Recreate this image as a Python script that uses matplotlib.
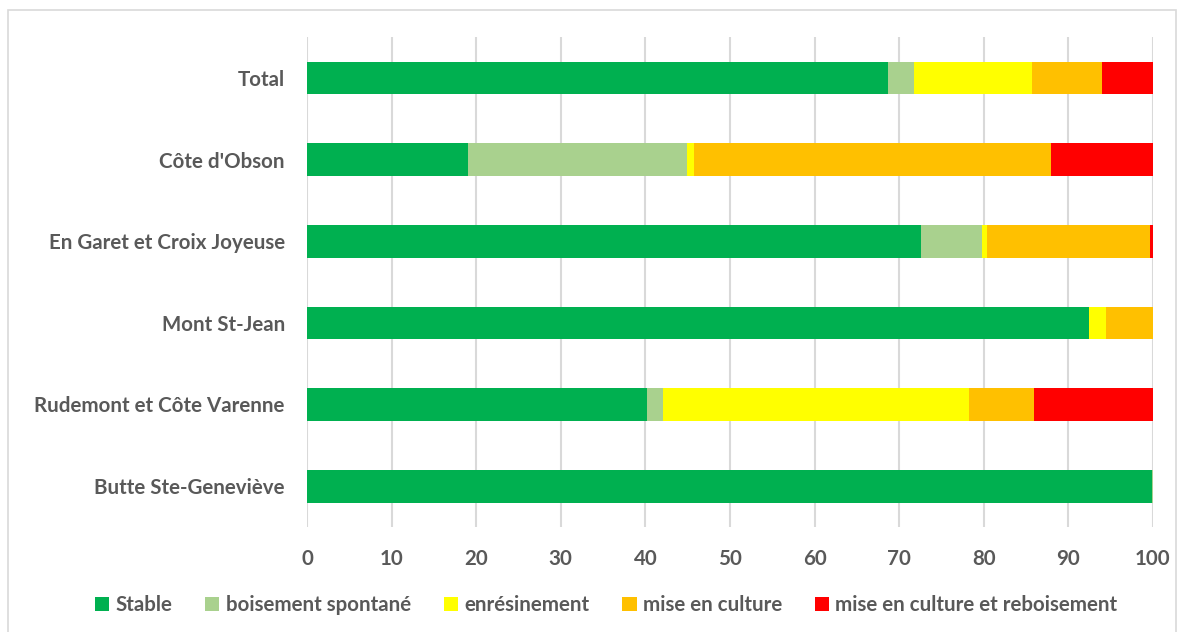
import matplotlib.pyplot as plt
from matplotlib.patches import Rectangle

# Share of each land-cover change per site (%)
sites = ['Butte Ste-Geneviève', 'Rudemont et Côte Varenne', 'Mont St-Jean',
         'En Garet et Croix Joyeuse', "Côte d'Obson", 'Total']
stable = [99.9, 40.2, 92.4, 72.6, 19.0, 68.7]
boisement = [0.1, 1.9, 0.0, 7.2, 25.9, 3.1]
enresinement = [0.0, 36.1, 2.1, 0.6, 0.8, 13.9]
culture = [0.0, 7.7, 5.5, 19.3, 42.3, 8.3]
culture_rebois = [0.0, 14.1, 0.0, 0.3, 12.0, 6.0]

series = [
    ('Stable', stable, '#00B050'),
    ('boisement spontané', boisement, '#A9D18E'),
    ('enrésinement', enresinement, '#FFFF00'),
    ('mise en culture', culture, '#FFC000'),
    ('mise en culture et reboisement', culture_rebois, '#FF0000'),
]

plt.rcParams['font.family'] = ['Lato', 'DejaVu Sans']
grey = '#595959'

fig = plt.figure(figsize=(11.84, 6.32), dpi=100)
ax = fig.add_axes([307 / 1184, 105 / 632, 846 / 1184, 490 / 632])

left = [0.0] * len(sites)
for name, vals, col in series:
    ax.barh(range(len(sites)), vals, left=left, height=0.40, color=col,
            label=name, zorder=3)
    left = [a + b for a, b in zip(left, vals)]

ax.set_xlim(0, 100)
ax.set_ylim(-0.5, len(sites) - 0.5)
ax.set_xticks(range(0, 101, 10))
ax.set_yticks(range(len(sites)))
ax.set_yticklabels(sites)
ax.grid(axis='x', color='#d9d9d9', linewidth=1.5, zorder=0)
for s in ax.spines.values():
    s.set_visible(False)
ax.tick_params(axis='both', length=0, colors=grey, labelsize=14.8)
ax.tick_params(axis='x', pad=16)
ax.tick_params(axis='y', pad=16)
for lab in ax.get_xticklabels() + ax.get_yticklabels():
    lab.set_fontweight('bold')

fig.legend(loc='center', bbox_to_anchor=(0.512, 0.042), ncol=5, frameon=False,
           handlelength=0.7, handleheight=0.7, handletextpad=0.3,
           columnspacing=1.6, prop={'size': 14.8, 'weight': 'bold'},
           labelcolor=grey)

fig.patches.append(Rectangle((8 / 1184, -0.05), 1168 / 1184, (622 / 632) + 0.05,
                             transform=fig.transFigure, fill=False,
                             edgecolor='#d9d9d9', linewidth=1.2))

plt.savefig('out.png', dpi=100)
plt.close()
